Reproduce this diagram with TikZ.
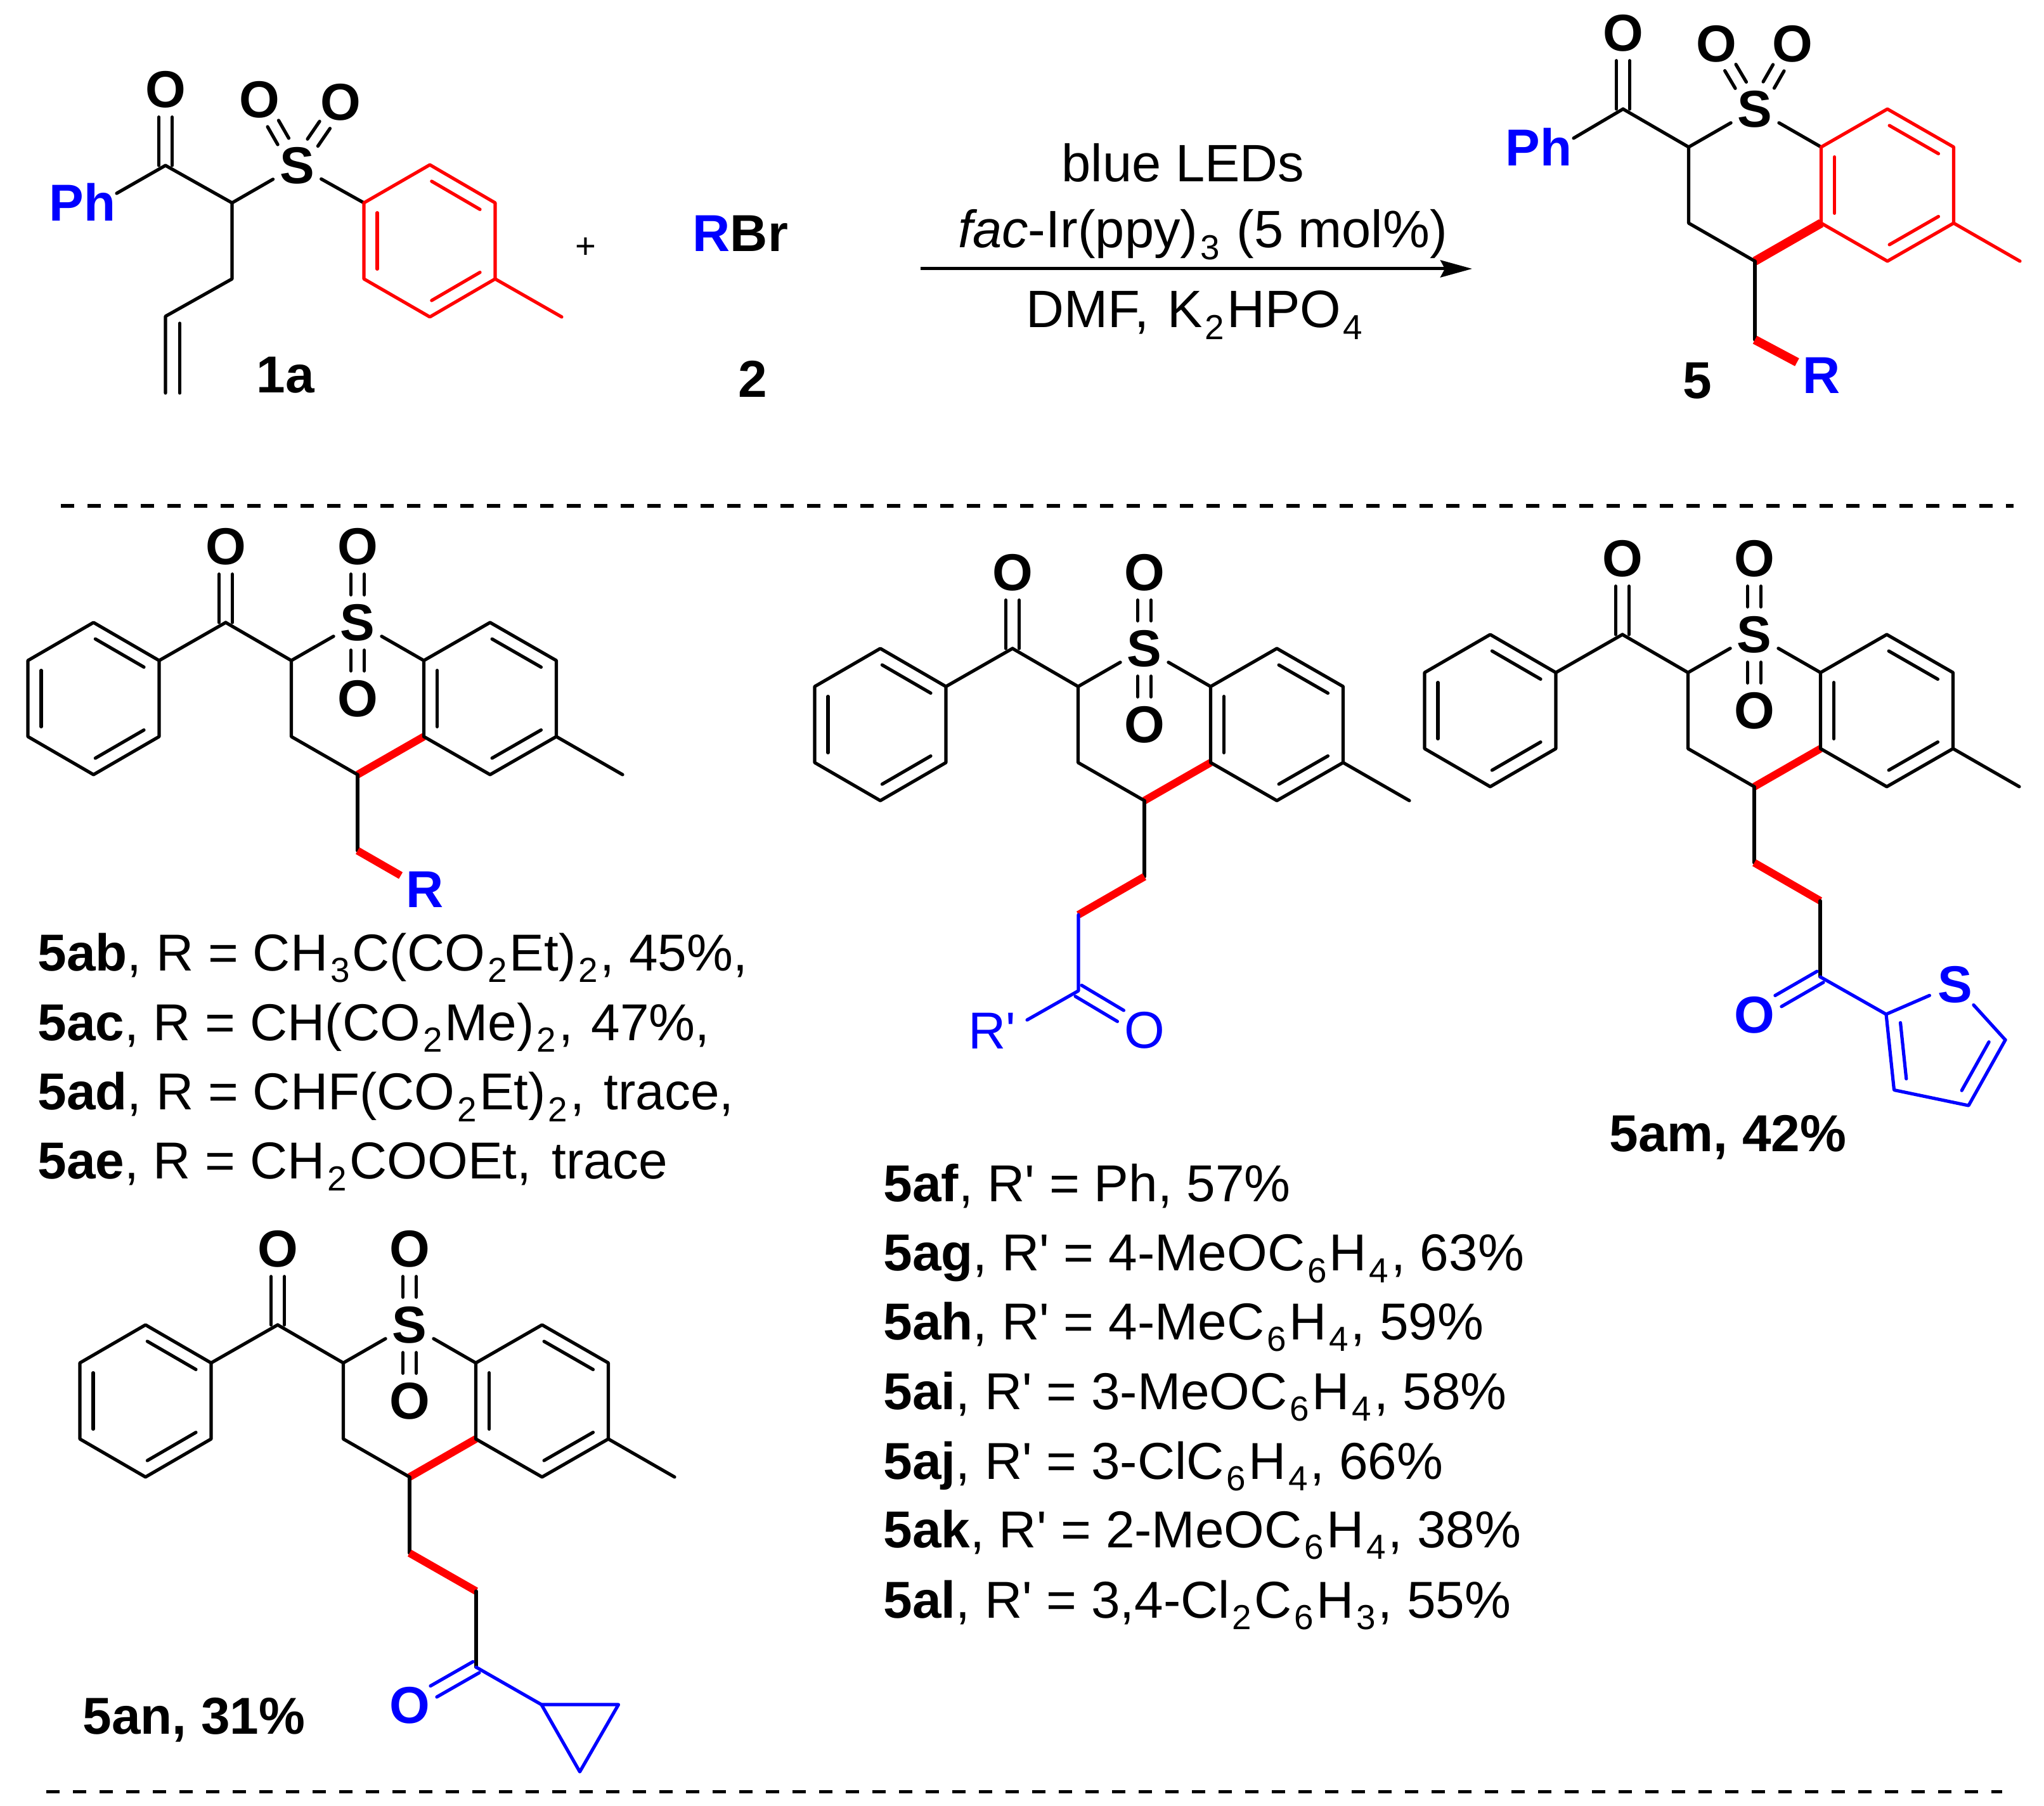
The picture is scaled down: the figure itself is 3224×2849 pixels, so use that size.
\documentclass[tikz,border=0pt]{standalone}
\usepackage{fontspec}
\setmainfont{Liberation Sans}[Ligatures=TeXOff]
\usetikzlibrary{calc,arrows.meta}
\definecolor{pblue}{RGB}{0,0,255}
\definecolor{pred}{RGB}{255,0,0}
\newcommand{\lsub}[1]{\kern.04cm\relax\raisebox{-.23em}{\fontsize{15.6}{16}\selectfont #1}\kern.04cm\relax}
\newcommand{\txtsize}{\fontsize{23.3}{28}\selectfont}
\newcommand{\condsize}{\fontsize{23.6}{28}\selectfont}
\tikzset{
  bond/.style={line width=.052cm,line cap=round,line join=round},
  thickbond/.style={line width=.12cm,line cap=butt,color=pred},
  atom/.style={circle,inner sep=0pt,minimum size=.86cm,font=\txtsize\bfseries},
  atomreg/.style={circle,inner sep=0pt,minimum size=.86cm,font=\txtsize},
  lab/.style={inner sep=0pt,anchor=base west,font=\txtsize},
  labc/.style={inner sep=0pt,anchor=base,font=\txtsize},
  cond/.style={inner sep=0pt,anchor=base,font=\condsize},
  sep/.style={line width=.05cm,dash pattern=on .21cm off .21cm},
}
% double bond: two parallel lines, shifted by +/-(sx,sy)
\newcommand{\dbl}[5][]{%
  \draw[bond,#1,transform canvas={shift={(#4,#5)}}] (#2) -- (#3);
  \draw[bond,#1,transform canvas={shift={({-(#4)},{-(#5)})}}] (#2) -- (#3);}
% inner line of a ring double bond, on the left of a->b
\newcommand{\inring}[3][]{%
  \draw[bond,#1] ($(#2)!.13!(#3)!.21cm!90:(#3)$) -- ($(#3)!.13!(#2)!.21cm!-90:(#2)$);}
% the fused ring system, origin at C4
\newcommand{\chromcore}[2][]{%
  \coordinate (C4) at (0,0);
  \coordinate (C3) at (-104.5,-60);
  \coordinate (Ca) at (-104.5,-180);
  \coordinate (C8a) at (104.5,-180);
  \coordinate (C8) at (209,-240);
  \coordinate (C7) at (313.5,-180);
  \coordinate (C6) at (313.5,-60);
  \coordinate (C5) at (209,0);
  \coordinate (C4a) at (104.5,-60);
  \coordinate (Me) at (418,0);
  \coordinate (CO) at (-208,-240);
  \node[atom] (S) at (0,-240) {S};
  \node[atom] (Ok) at (-208,-360) {O};
  \draw[thickbond,#1] (C4) -- (C4a);
  \draw[bond] (CO) -- (Ca) -- (C3) -- (C4);
  \draw[bond] (Ca) -- (S);
  \draw[bond] (S) -- (C8a);
  \dbl{CO}{Ok}{10.5}{0}
  \draw[bond,#2] (C4a) -- (C8a) -- (C8) -- (C7) -- (C6) -- (C5) -- (C4a);
  \draw[bond,#2] (C6) -- (Me);
  \inring[#2]{C8a}{C4a}
  \inring[#2]{C5}{C6}
  \inring[#2]{C7}{C8}
}
% vertical S=O pair and benzoyl phenyl
\newcommand{\sulfvert}{%
  \node[atom] (Ot) at (0,-360) {O};
  \node[atom] (Ob) at (0,-120) {O};
  \dbl{S}{Ot}{10.5}{0}
  \dbl{S}{Ob}{10.5}{0}
}
\newcommand{\phenyl}{%
  \coordinate (P1) at (-313,-180);
  \coordinate (P2) at (-416.5,-240);
  \coordinate (P3) at (-520,-180);
  \coordinate (P4) at (-520,-60);
  \coordinate (P5) at (-416.5,0);
  \coordinate (P6) at (-313,-60);
  \draw[bond] (CO) -- (P1);
  \draw[bond] (P1) -- (P2) -- (P3) -- (P4) -- (P5) -- (P6) -- cycle;
  \inring{P3}{P4}
  \inring{P5}{P6}
  \inring{P1}{P2}
}
\begin{document}
\begin{tikzpicture}[x=.01cm,y=-.01cm]
\useasboundingbox (0,0) rectangle (3224,2849);
\fill[white] (0,0) rectangle (3224,2849);

% ---------- reactant 1a
\begin{scope}[name prefix=r-]
  \coordinate (CO) at (261,261);
  \coordinate (Ca) at (366,320);
  \coordinate (CH2) at (366,440);
  \coordinate (V1) at (261,499);
  \coordinate (V2) at (261,620);
  \coordinate (V3) at (283.5,510);
  \coordinate (V4) at (283.5,620);
  \coordinate (A1) at (574,320);
  \coordinate (A2) at (678,260);
  \coordinate (A3) at (781,320);
  \coordinate (A4) at (781,440);
  \coordinate (A5) at (678,500);
  \coordinate (A6) at (574,440);
  \coordinate (AMe) at (886,500);
  \coordinate (Phend) at (184,305);
  \node[atom] (Ok) at (261,141) {O};
  \node[atom] (S) at (468.5,261) {S};
  \node[atom] (O1) at (409,157) {O};
  \node[atom] (O2) at (537,161) {O};
  \node[lab,text=pblue,font=\txtsize\bfseries,anchor=base] (Ph) at (130,349) {Ph};
  \draw[bond] (Phend) -- (CO) -- (Ca) -- (CH2) -- (V1) -- (V2);
  \draw[bond] (V3) -- (V4);
  \dbl{CO}{Ok}{10.5}{0}
  \draw[bond] (Ca) -- (S);
  \draw[bond] (S) -- (A1);
  \dbl{S}{O1}{8.7}{-5}
  \dbl{S}{O2}{8.2}{5.6}
  \draw[bond,pred] (A1) -- (A2) -- (A3) -- (A4) -- (A5) -- (A6) -- cycle;
  \draw[bond,pred] (A4) -- (AMe);
  \inring[pred]{A1}{A6}
  \inring[pred]{A3}{A2}
  \inring[pred]{A5}{A4}
\end{scope}
\node[lab,font=\txtsize\bfseries] (lab1a) at (404,620) {1a};
\node[inner sep=0pt,font=\fontsize{16}{20}\selectfont] (plus) at (924,391) {+};
\node[lab,font=\txtsize\bfseries] (RBr) at (1092,396.5) {\textcolor{pblue}{R}Br};
\node[labc,font=\txtsize\bfseries] (lab2) at (1187,627) {2};

% ---------- conditions
\coordinate (arA) at (1452,424);
\coordinate (arB) at (2322,424);
\draw[line width=.05cm,-{Stealth[length=.5cm,width=.27cm,inset=.07cm]}] (arA) -- (arB);
\node[cond] (c1) at (1866,286.5) {blue LEDs};
\node[cond] (c2) at (1897,390.5) {\textit{fac}-Ir(ppy)\lsub{3} (5 mol\%)};
\node[cond] (c3) at (1886,516.5) {DMF, \kern.06cm\relax K\lsub{2}HPO\lsub{4}};

% ---------- product 5
\begin{scope}[shift={(2768,412)},name prefix=p-]
  \chromcore[line width=.14cm]{pred}
  \node[atom] (O1) at (-61,-343) {O};
  \node[atom] (O2) at (59,-343) {O};
  \dbl{S}{O1}{8.7}{-5}
  \dbl{S}{O2}{8.7}{5}
  \coordinate (Phend) at (-286,-194);
  \node[labc,text=pblue,font=\txtsize\bfseries] (Ph) at (-341,-150) {Ph};
  \draw[bond] (CO) -- (Phend);
  \coordinate (Cc) at (0,124);
  \draw[bond] (C4) -- (Cc);
  \node[atom,text=pblue] (R) at (105,180) {R};
  \draw[thickbond,line width=.14cm] (Cc) -- (R);
\end{scope}
\node[labc,font=\txtsize\bfseries] (lab5) at (2677,629) {5};

% ---------- separators
\coordinate (d1a) at (96,798);
\coordinate (d1b) at (3176,798);
\coordinate (d2a) at (73,2826);
\coordinate (d2b) at (3158,2826);
\draw[sep] (d1a) -- (d1b);
\draw[sep] (d2a) -- (d2b);

% ---------- generic R series
\begin{scope}[shift={(564,1222)},name prefix=ab-]
  \chromcore{black}
  \sulfvert
  \phenyl
  \coordinate (Cc) at (0,120);
  \draw[bond] (C4) -- (Cc);
  \node[atom,text=pblue] (R) at (106,181) {R};
  \draw[thickbond] (Cc) -- (R);
\end{scope}
\node[lab] (t1) at (59,1531) {\textbf{5ab}, R = CH\lsub{3}C(CO\lsub{2}Et)\lsub{2}, 45\%,};
\node[lab] (t2) at (59,1641) {\textbf{5ac}, R = CH(CO\lsub{2}Me)\lsub{2}, \kern.06cm\relax 47\%,};
\node[lab] (t3) at (59,1750.5) {\textbf{5ad}, R = CHF(CO\lsub{2}Et)\lsub{2}, \kern.08cm\relax trace,};
\node[lab] (t4) at (59,1859.5) {\textbf{5ae}, R = CH\lsub{2}COOEt, \kern.1cm\relax trace};

% ---------- 5af series
\begin{scope}[shift={(1805,1263)},name prefix=af-]
  \chromcore{black}
  \sulfvert
  \phenyl
  \coordinate (Ca1) at (0,120);
  \coordinate (Ca2) at (-104,180);
  \coordinate (Ca3) at (-104,300);
  \coordinate (Rend) at (-185,346);
  \draw[bond] (C4) -- (Ca1);
  \draw[thickbond] (Ca1) -- (Ca2);
  \draw[bond,pblue] (Ca2) -- (Ca3) -- (Rend);
  \node[atomreg,text=pblue] (O) at (0,362) {O};
  \node[labc,text=pblue] (Rp) at (-240,391) {R'};
  \dbl[pblue]{Ca3}{O}{5}{-8.7}
\end{scope}
\node[lab] (t5) at (1393,1895.5) {\textbf{5af}, R' = Ph, 57\%};
\node[lab] (t6) at (1393,2004.5) {\textbf{5ag}, R' = 4-MeOC\lsub{6}H\lsub{4}, 63\%};
\node[lab] (t7) at (1393,2113) {\textbf{5ah}, R' = 4-MeC\lsub{6}H\lsub{4}, 59\%};
\node[lab] (t8) at (1393,2223) {\textbf{5ai}, R' = 3-MeOC\lsub{6}H\lsub{4}, 58\%};
\node[lab] (t9) at (1393,2333) {\textbf{5aj}, R' = 3-ClC\lsub{6}H\lsub{4}, 66\%};
\node[lab] (t10) at (1393,2441) {\textbf{5ak}, R' = 2-MeOC\lsub{6}H\lsub{4}, 38\%};
\node[lab] (t11) at (1393,2552) {\textbf{5al}, R' = 3,4-Cl\lsub{2}C\lsub{6}H\lsub{3}, 55\%};

% ---------- 5am
\begin{scope}[shift={(2767,1241)},name prefix=am-]
  \chromcore{black}
  \sulfvert
  \phenyl
  \coordinate (Ca1) at (0,120);
  \coordinate (Ca2) at (104,180);
  \coordinate (Ca3) at (104,300);
  \draw[bond] (C4) -- (Ca1);
  \draw[thickbond] (Ca1) -- (Ca2);
  \draw[bond] (Ca2) -- (Ca3);
  \node[atom,text=pblue] (O) at (0,360) {O};
  \dbl[pblue]{Ca3}{O}{5}{8.7}
  \coordinate (T2) at (208,359);
  \coordinate (T3) at (220.5,478.5);
  \coordinate (T4) at (338,503);
  \coordinate (T5) at (396,399.5);
  \node[atom,text=pblue] (TS) at (316.5,312) {S};
  \draw[bond,pblue] (Ca3) -- (T2);
  \draw[bond,pblue] (T2) -- (TS);
  \draw[bond,pblue] (TS) -- (T5);
  \draw[bond,pblue] (T5) -- (T4) -- (T3) -- (T2);
  \inring[pblue]{T2}{T3}
  \inring[pblue]{T4}{T5}
\end{scope}
\node[lab,font=\txtsize\bfseries] (t12) at (2538,1816) {5am, 42\%};

% ---------- 5an
\begin{scope}[shift={(646,2330)},name prefix=an-]
  \chromcore{black}
  \sulfvert
  \phenyl
  \coordinate (Ca1) at (0,120);
  \coordinate (Ca2) at (105,180);
  \coordinate (Ca3) at (105,300);
  \draw[bond] (C4) -- (Ca1);
  \draw[thickbond] (Ca1) -- (Ca2);
  \draw[bond] (Ca2) -- (Ca3);
  \node[atom,text=pblue] (O) at (0,360) {O};
  \dbl[pblue]{Ca3}{O}{5}{8.7}
  \coordinate (Y1) at (208,359);
  \coordinate (Y2) at (329.5,359);
  \coordinate (Y3) at (268.5,465);
  \draw[bond,pblue] (Ca3) -- (Y1);
  \draw[bond,pblue] (Y1) -- (Y2) -- (Y3) -- cycle;
\end{scope}
\node[lab,font=\txtsize\bfseries] (t13) at (130,2735) {5an, 31\%};
\end{tikzpicture}
\end{document}
